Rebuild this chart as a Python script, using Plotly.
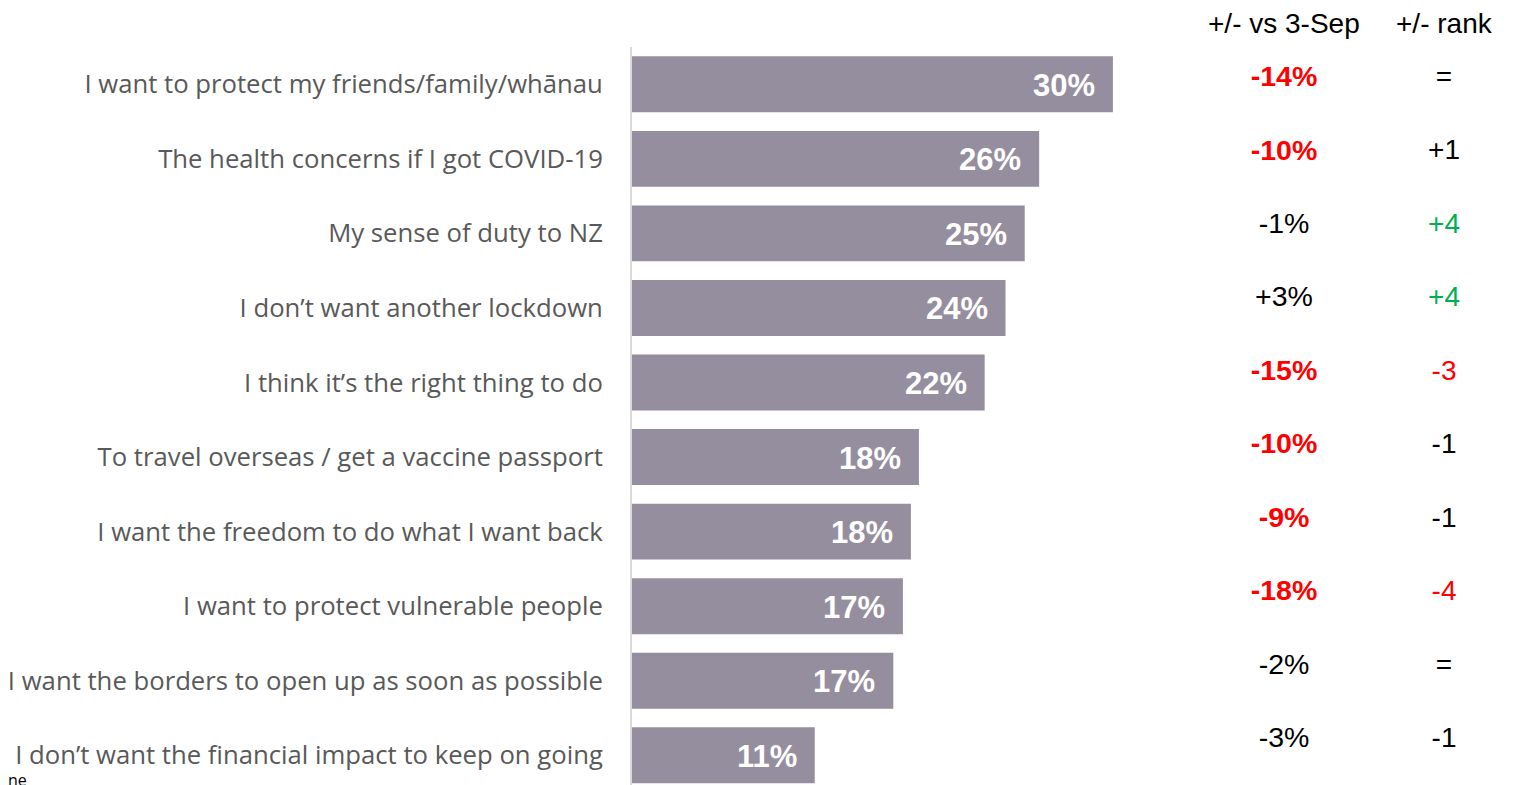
import plotly.graph_objects as go

categories = [
    "I want to protect my friends/family/whānau",
    "The health concerns if I got COVID-19",
    "My sense of duty to NZ",
    "I don’t want another lockdown",
    "I think it’s the right thing to do",
    "To travel overseas / get a vaccine passport",
    "I want the freedom to do what I want back",
    "I want to protect vulnerable people",
    "I want the borders to open up as soon as possible",
    "I don’t want the financial impact to keep on going",
]
values = [30.0, 25.4, 24.5, 23.3, 22.0, 17.9, 17.4, 16.9, 16.3, 11.4]
value_labels = ["30%", "26%", "25%", "24%", "22%", "18%", "18%", "17%", "17%", "11%"]
change_vs_3sep = [-14, -10, -1, 3, -15, -10, -9, -18, -2, -3]
change_significant = [True, True, False, False, True, True, True, True, False, False]
rank_change = [0, 1, 4, 4, -3, -1, -1, -4, 0, -1]
rank_significant = [False, False, True, True, True, False, False, True, False, False]
headers = ["+/- vs 3-Sep", "+/- rank"]

BAR = "#958E9F"
LABEL = "#595959"
RED = "#FF0000"
GREEN = "#00B050"
ARIAL = "Arial, 'Liberation Sans', sans-serif"
OPEN = "'Open Sans', sans-serif"

fig = go.Figure()
fig.add_trace(go.Bar(
    y=categories, x=values, orientation="h",
    marker=dict(color=BAR, line=dict(width=0)),
    hoverinfo="skip", showlegend=False,
))

def fmt_change(v):
    return ("+" if v > 0 else "") + f"{v}%"

def fmt_rank(v):
    return "=" if v == 0 else (("+" if v > 0 else "") + str(v))

rows = list(range(len(categories)))
chg_text = [f"<b>{fmt_change(v)}</b>" if s else fmt_change(v) for v, s in zip(change_vs_3sep, change_significant)]
chg_col = [RED if s else "black" for s in change_significant]
rank_text = [fmt_rank(v) for v in rank_change]
rank_col = [(GREEN if v > 0 else RED) if s else "black" for v, s in zip(rank_change, rank_significant)]

COL1, COL2 = 0.7326, 0.9124

fig.add_trace(go.Scatter(
    x=[COL1] * len(rows), y=rows, mode="text", text=chg_text,
    textfont=dict(family=ARIAL, size=28.5, color=chg_col),
    xaxis="x2", yaxis="y2", hoverinfo="skip", showlegend=False, cliponaxis=False,
))
fig.add_trace(go.Scatter(
    x=[COL2] * len(rows), y=rows, mode="text", text=rank_text,
    textfont=dict(family=ARIAL, size=28, color=rank_col),
    xaxis="x2", yaxis="y2", hoverinfo="skip", showlegend=False, cliponaxis=False,
))

annotations = []
for c, v, t in zip(categories, values, value_labels):
    annotations.append(dict(
        x=v, y=c, xref="x", yref="y", text=f"<b>{t}</b>", showarrow=False,
        xanchor="right", yanchor="middle", xshift=-16, yshift=-1,
        font=dict(family=ARIAL, size=31, color="white"),
    ))
for h, px in zip(headers, [COL1, COL2]):
    annotations.append(dict(
        x=px, y=1.032, xref="paper", yref="paper", text=h, showarrow=False,
        xanchor="center", yanchor="middle",
        font=dict(family=ARIAL, size=28, color="black"),
    ))
annotations.append(dict(
    x=0, y=-0.004, xref="paper", yref="paper", text="ne", showarrow=False,
    xanchor="left", yanchor="bottom", xshift=-626, yshift=-5,
    font=dict(family=OPEN, size=16, color="black"),
))

fig.update_layout(
    width=1514, height=777,
    margin=dict(l=624, r=0, t=39, b=0, pad=0),
    paper_bgcolor="white", plot_bgcolor="white",
    bargap=0.25,
    xaxis=dict(range=[0, 55.52], visible=False, fixedrange=True),
    yaxis=dict(
        type="category", categoryorder="array", categoryarray=categories,
        range=[9.398, -0.5], showgrid=False, zeroline=False,
        showline=True, linecolor="#D9D9D9", linewidth=2,
        ticks="", ticklabelstandoff=22,
        tickfont=dict(family=OPEN, size=25.7, color=LABEL),
    ),
    xaxis2=dict(overlaying="x", range=[0, 1], visible=False, fixedrange=True),
    yaxis2=dict(overlaying="y", range=[9.613, -0.436], visible=False, fixedrange=True),
    annotations=annotations,
)

fig.write_html("out.html")
